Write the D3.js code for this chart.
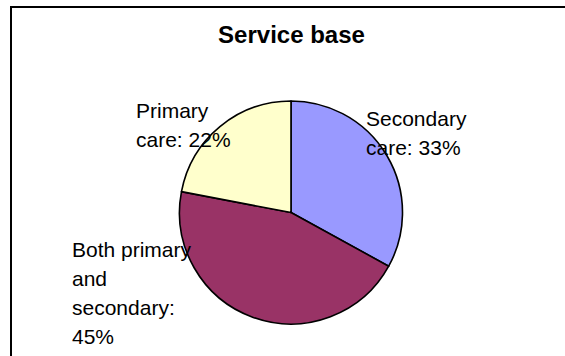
<!DOCTYPE html>
<html>
<head>
<meta charset="utf-8">
<script src="https://cdn.jsdelivr.net/npm/d3@7"></script>
<style>
  html, body { margin: 0; padding: 0; background: #fff; }
  svg { display: block; }
  text { font-family: "Liberation Sans", Arial, Helvetica, sans-serif; fill: #000; }
</style>
</head>
<body>
<svg id="chart" width="565" height="356"></svg>
<script>
// Service base breakdown (percent of services)
const categories = ["Secondary care", "Both primary and secondary", "Primary care"];
const values = [33, 45, 22];
const colors = ["#9999FF", "#993366", "#FFFFCC"];
const title = "Service base";

const width = 565, height = 356;
const svg = d3.select("#chart");

// Chart frame (extends past the right and bottom edges of the view)
svg.append("rect")
  .attr("x", 11).attr("y", 7)
  .attr("width", 570).attr("height", 360)
  .attr("fill", "#fff")
  .attr("stroke", "#000")
  .attr("stroke-width", 2);

svg.append("text")
  .attr("x", 291.5).attr("y", 43)
  .attr("text-anchor", "middle")
  .style("font-size", "24px")
  .style("font-weight", "bold")
  .text(title);

const cx = 291, cy = 212.5, radius = 111.5;

const pie = d3.pie().sort(null).value(d => d.value).startAngle(0).endAngle(2 * Math.PI);
const arc = d3.arc().innerRadius(0).outerRadius(radius);

const data = categories.map((c, i) => ({ name: c, value: values[i], color: colors[i] }));
const arcs = pie(data);

const g = svg.append("g").attr("transform", `translate(${cx},${cy})`);

g.selectAll("path.slice")
  .data(arcs)
  .join("path")
  .attr("class", "slice")
  .attr("d", arc)
  .attr("fill", d => d.data.color)
  .attr("stroke", "#000")
  .attr("stroke-width", 1.6)
  .attr("stroke-linejoin", "round");

// Data labels: "<category>: <value>%", word-wrapped to a fixed width
const fontSize = 21, lineHeight = 29, wrapWidth = 122;
const ctx = document.createElement("canvas").getContext("2d");
ctx.font = `${fontSize}px "Liberation Sans", Arial, sans-serif`;

function wrap(str) {
  const words = str.split(" ");
  const lines = [];
  let cur = "";
  words.forEach(w => {
    const trial = cur ? cur + " " + w : w;
    if (cur && ctx.measureText(trial).width > wrapWidth) {
      lines.push(cur);
      cur = w;
    } else {
      cur = trial;
    }
  });
  if (cur) lines.push(cur);
  return lines;
}

// Label block anchors (left edge, first baseline), per slice
const labelAnchors = [
  { x: 366, y: 126 },
  { x: 72, y: 257 },
  { x: 136, y: 118 }
];

const labels = svg.append("g")
  .selectAll("text.label")
  .data(arcs)
  .join("text")
  .attr("class", "label")
  .style("font-size", fontSize + "px")
  .attr("x", (d, i) => labelAnchors[i].x)
  .attr("y", (d, i) => labelAnchors[i].y);

labels.each(function(d, i) {
  const lines = wrap(`${d.data.name}: ${d.data.value}%`);
  d3.select(this).selectAll("tspan")
    .data(lines)
    .join("tspan")
    .attr("x", labelAnchors[i].x)
    .attr("dy", (l, k) => k === 0 ? 0 : lineHeight)
    .text(l => l);
});
</script>
</body>
</html>
